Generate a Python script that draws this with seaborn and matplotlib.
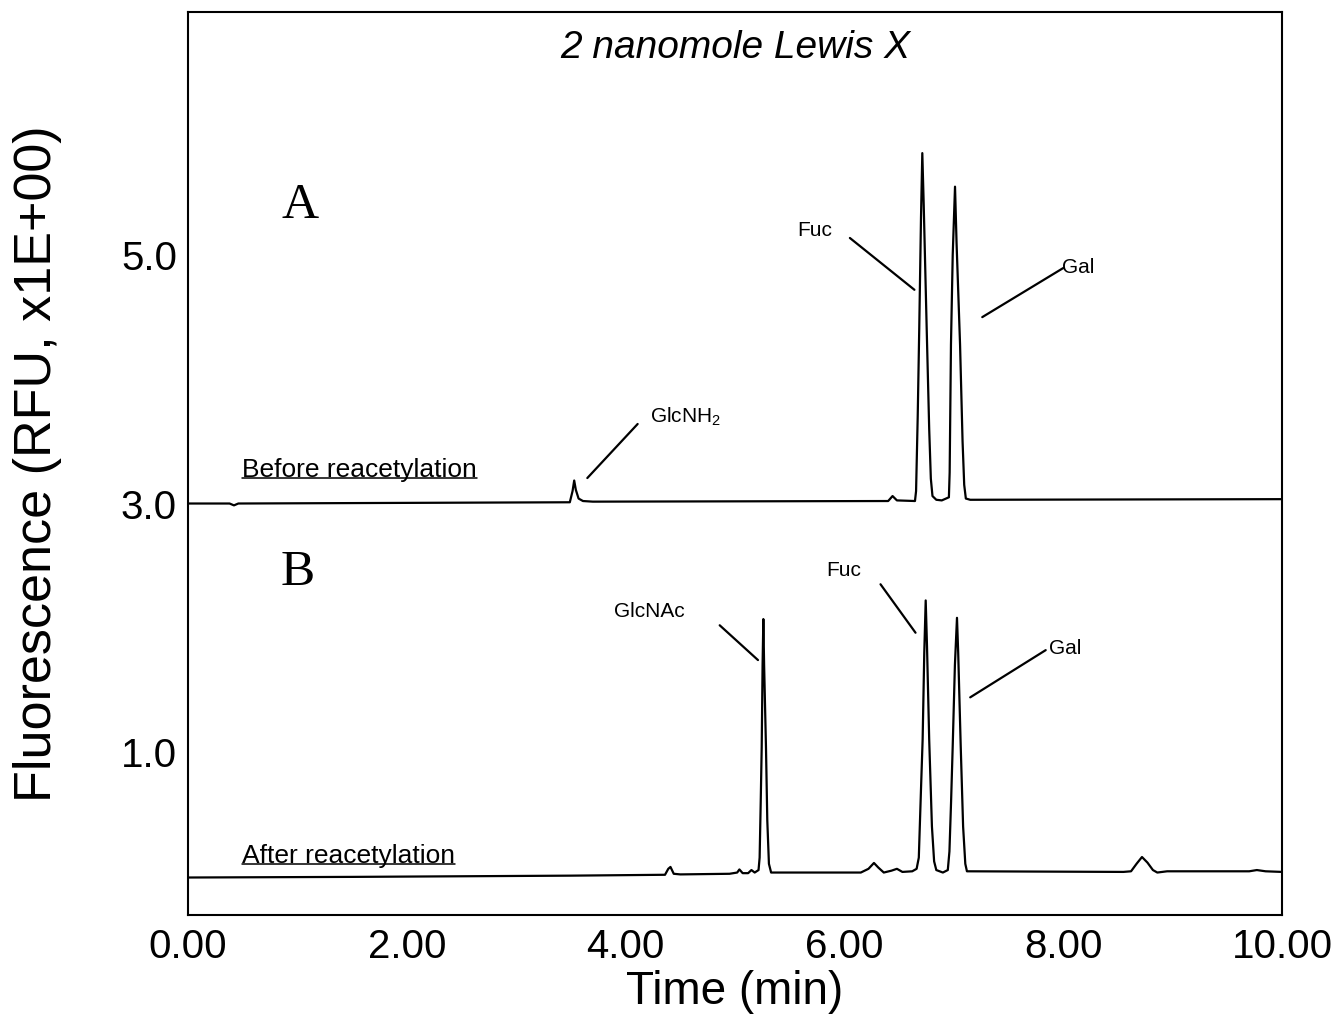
import pandas as pd
import matplotlib
matplotlib.use('Agg')
import matplotlib.pyplot as plt
import seaborn as sns

# chromatogram A: before reacetylation (time in min, signal)
time_a = [0.00, 0.38, 0.42, 0.46, 3.49, 3.515, 3.53, 3.545, 3.57, 3.61, 3.70,
          6.40, 6.44, 6.48, 6.645, 6.655, 6.670, 6.684, 6.700, 6.712, 6.725,
          6.752, 6.775, 6.790, 6.805, 6.840, 6.890, 6.955, 6.962, 6.974, 6.990,
          7.011, 7.025, 7.057, 7.080, 7.095, 7.110, 7.150, 10.00]
signal_a = [3.00, 3.00, 2.985, 3.00, 3.01, 3.10, 3.185, 3.11, 3.04, 3.02, 3.015,
            3.02, 3.06, 3.025, 3.02, 3.10, 3.70, 4.41, 5.30, 5.82, 5.40,
            4.41, 3.60, 3.20, 3.06, 3.03, 3.025, 3.05, 3.25, 4.28, 5.00,
            5.55, 5.10, 4.28, 3.50, 3.15, 3.04, 3.03, 3.035]

# chromatogram B: after reacetylation
time_b = [0.00, 1.50, 3.50, 4.36, 4.39, 4.41, 4.44, 4.50, 4.95, 5.02, 5.04, 5.07,
          5.12, 5.15, 5.18, 5.215, 5.225, 5.235, 5.244, 5.252, 5.259, 5.266,
          5.283, 5.295, 5.310, 5.330, 6.15, 6.22, 6.27, 6.31, 6.36, 6.43, 6.48,
          6.53, 6.62, 6.66, 6.68, 6.70, 6.715, 6.73, 6.743, 6.755, 6.775, 6.80,
          6.82, 6.84, 6.90, 6.945, 6.96, 6.975, 6.99, 7.01, 7.029, 7.04, 7.063,
          7.085, 7.105, 7.12, 8.55, 8.62, 8.67, 8.72, 8.77, 8.82, 8.86, 8.95,
          9.70, 9.77, 9.85, 10.00]
signal_b = [-0.010, -0.005, 0.005, 0.012, 0.06, 0.075, 0.02, 0.015, 0.02, 0.03, 0.055, 0.025,
            0.025, 0.05, 0.03, 0.05, 0.15, 0.60, 1.04, 1.70, 2.07, 1.70,
            1.04, 0.45, 0.10, 0.03, 0.03, 0.06, 0.107, 0.07, 0.03, 0.045, 0.06,
            0.035, 0.04, 0.06, 0.15, 0.70, 1.10, 1.80, 2.22, 1.85, 1.10, 0.40,
            0.12, 0.05, 0.03, 0.05, 0.20, 0.60, 1.05, 1.70, 2.08, 1.80, 1.05,
            0.40, 0.10, 0.04, 0.035, 0.04, 0.10, 0.155, 0.11, 0.05, 0.03, 0.04,
            0.04, 0.05, 0.04, 0.035]

x_ticks = [0, 2, 4, 6, 8, 10]
x_ticklabels = ['0.00', '2.00', '4.00', '6.00', '8.00', '10.00']
y_ticks = [5.0, 3.0, 1.0]
y_ticklabels = ['5.0', '3.0', '1.0']

# peak labels: (text, text x, text y, line start, line end)
peak_labels_a = [('GlcNH$_2$', 4.55, 3.70, (4.11, 3.64), (3.65, 3.205)),
                 ('Fuc', 5.73, 5.20, (6.05, 5.137), (6.64, 4.72)),
                 ('Gal', 8.14, 4.90, (8.00, 4.895), (7.26, 4.50))]
peak_labels_b = [('GlcNAc', 4.22, 2.13, (4.86, 2.02), (5.21, 1.74)),
                 ('Fuc', 5.99, 2.46, (6.33, 2.35), (6.65, 1.96)),
                 ('Gal', 8.02, 1.83, (7.84, 1.82), (7.15, 1.44))]

df_a = pd.DataFrame({'time': time_a, 'signal': signal_a})
df_b = pd.DataFrame({'time': time_b, 'signal': signal_b})

sns.set_style('white')
plt.rcParams['font.family'] = ['Liberation Sans', 'DejaVu Sans']
plt.rcParams['mathtext.fontset'] = 'custom'
plt.rcParams['mathtext.rm'] = 'Liberation Sans'
plt.rcParams['mathtext.default'] = 'regular'
plt.rcParams['text.color'] = 'black'
plt.rcParams['axes.labelcolor'] = 'black'

fig = plt.figure(figsize=(13.42, 10.14), dpi=100)
ax = fig.add_axes([0.1401, 0.0976, 0.8152, 0.8906])

sns.lineplot(data=df_a, x='time', y='signal', color='black', linewidth=1.6,
             sort=False, estimator=None, ax=ax)
sns.lineplot(data=df_b, x='time', y='signal', color='black', linewidth=1.6,
             sort=False, estimator=None, ax=ax)

ax.set_xlim(0, 10)
ax.set_ylim(-0.312, 6.956)
ax.set_xticks(x_ticks)
ax.set_xticklabels(x_ticklabels)
ax.set_yticks(y_ticks)
ax.set_yticklabels(y_ticklabels)
ax.tick_params(axis='both', length=0, labelsize=29, colors='black')
ax.tick_params(axis='x', pad=9)
ax.tick_params(axis='y', pad=8)
for sp in ax.spines.values():
    sp.set_color('black')
    sp.set_linewidth(1.5)

ax.set_xlabel('Time (min)', fontsize=33)
ax.set_ylabel('Fluorescence (RFU, x1E+00)', fontsize=37.5)
ax.xaxis.set_label_coords(0.5, -0.061)
ax.yaxis.set_label_coords(-0.115, 0.5)

ax.text(5.0, 6.67, '2 nanomole Lewis X', fontsize=28, style='italic',
        ha='center', va='center')
ax.text(1.02, 5.40, 'A', fontsize=37, family='Liberation Serif', ha='center', va='center')
ax.text(1.005, 2.44, 'B', fontsize=37, family='Liberation Serif', ha='center', va='center')

for txt, tx, ty, p0, p1 in peak_labels_a + peak_labels_b:
    ax.text(tx, ty, txt, fontsize=15, ha='center', va='center')
    ax.plot([p0[0], p1[0]], [p0[1], p1[1]], color='black', linewidth=1.6)

# underlined trace captions
cap_a = ax.text(1.57, 3.27, 'Before reacetylation', fontsize=19, ha='center', va='center')
cap_b = ax.text(1.47, 0.16, 'After reacetylation', fontsize=19, ha='center', va='center')
fig.canvas.draw()
renderer = fig.canvas.get_renderer()
inv = ax.transData.inverted()
for cap in (cap_a, cap_b):
    bb = cap.get_window_extent(renderer)
    (x0, y0) = inv.transform((bb.x0, bb.y0 + 4))
    (x1, _) = inv.transform((bb.x1, bb.y0 + 4))
    ax.plot([x0, x1], [y0, y0], color='black', linewidth=1.1)

fig.savefig('out.png', dpi=100)
